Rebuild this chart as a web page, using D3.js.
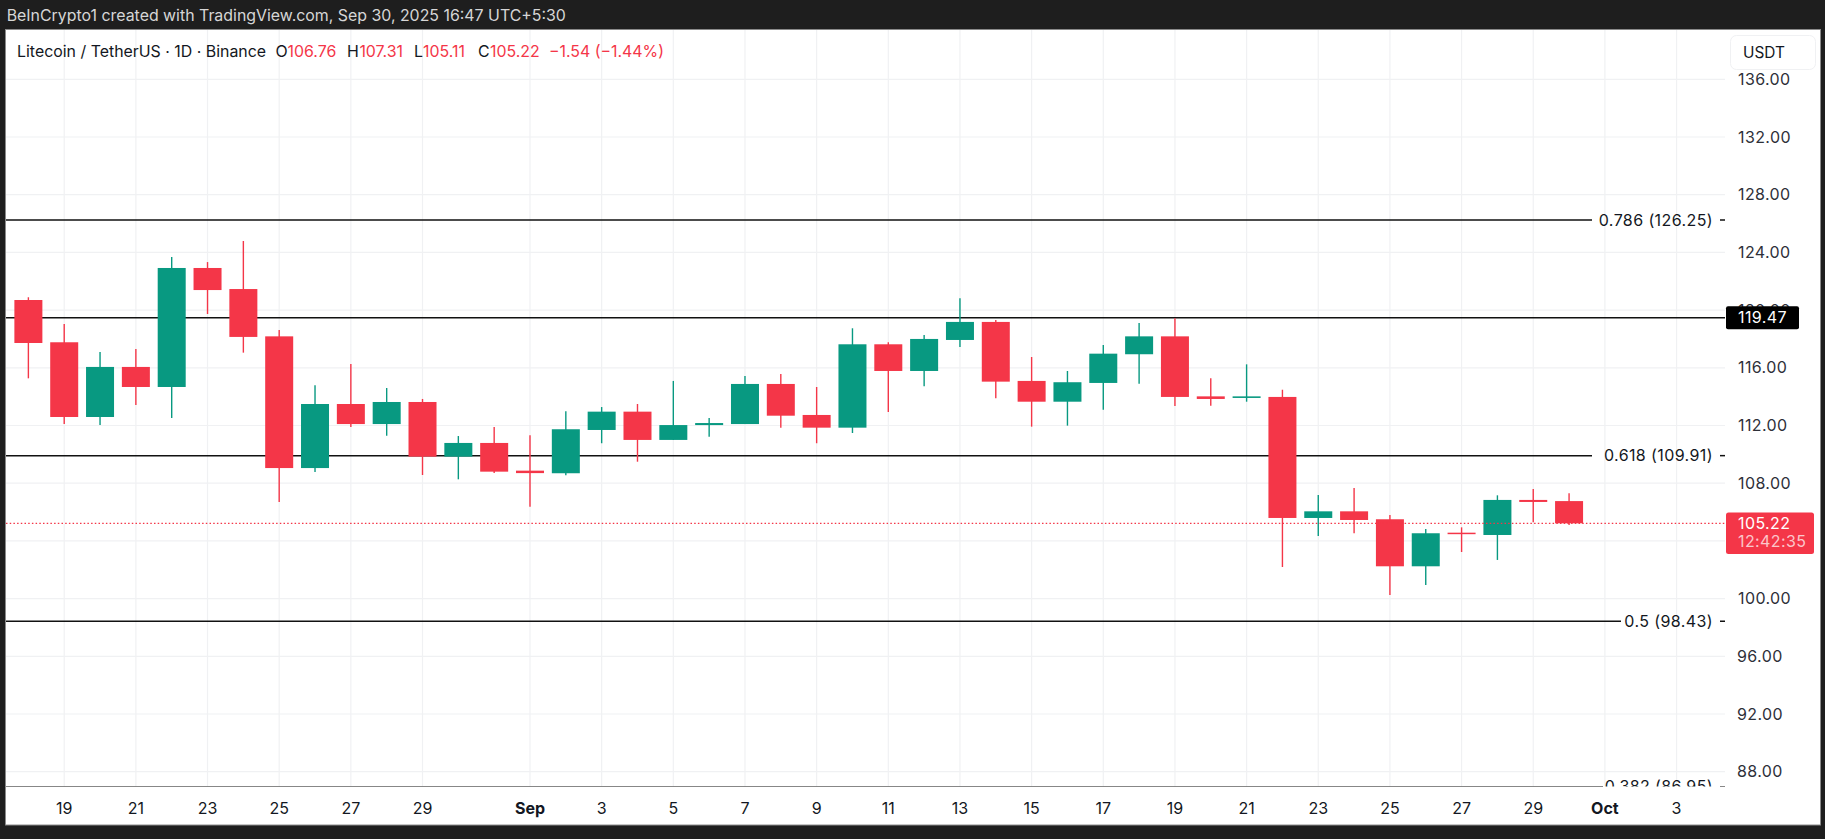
<!DOCTYPE html>
<html><head><meta charset="utf-8">
<style>html,body{margin:0;padding:0;background:#1e1e1e;overflow:hidden}svg{display:block}text{font-family:Inter,"Noto Sans",sans-serif}</style>
<script src="https://cdn.jsdelivr.net/npm/d3@7/dist/d3.min.js"></script>
</head><body><svg id="c" width="1825" height="839"></svg>
<script>
const dates=["2025-08-18","2025-08-19","2025-08-20","2025-08-21","2025-08-22","2025-08-23","2025-08-24","2025-08-25","2025-08-26","2025-08-27","2025-08-28","2025-08-29","2025-08-30","2025-08-31","2025-09-01","2025-09-02","2025-09-03","2025-09-04","2025-09-05","2025-09-06","2025-09-07","2025-09-08","2025-09-09","2025-09-10","2025-09-11","2025-09-12","2025-09-13","2025-09-14","2025-09-15","2025-09-16","2025-09-17","2025-09-18","2025-09-19","2025-09-20","2025-09-21","2025-09-22","2025-09-23","2025-09-24","2025-09-25","2025-09-26","2025-09-27","2025-09-28","2025-09-29","2025-09-30"];
const opens=[120.70,117.77,112.59,116.06,114.67,122.92,121.46,118.18,109.05,113.49,112.10,113.63,109.84,110.79,108.87,108.69,111.69,112.96,111.00,112.03,112.10,114.88,112.73,111.85,117.63,115.78,117.93,119.18,115.09,113.65,114.95,116.94,118.18,114.02,113.91,113.98,105.59,106.05,105.50,102.24,104.57,104.41,106.84,106.76];
const highs=[120.89,119.04,117.10,117.30,123.68,123.33,124.79,118.62,114.79,116.26,114.60,113.84,111.27,111.90,111.32,112.98,113.28,113.49,115.09,112.52,115.43,115.57,114.67,118.74,117.77,118.27,120.82,119.31,116.75,115.78,117.58,119.11,119.43,115.27,116.24,114.48,107.18,107.67,105.80,104.82,104.94,107.16,107.60,107.31];
const lows=[115.27,112.10,112.03,113.42,112.52,119.73,117.05,106.70,108.78,111.90,111.29,108.57,108.27,108.71,106.37,108.55,110.77,109.49,111.00,111.22,112.10,111.85,110.77,111.48,112.94,114.72,117.44,113.89,111.92,111.99,113.10,114.90,113.35,113.37,113.65,102.19,104.34,104.53,100.25,100.94,103.23,102.68,105.29,105.11];
const closes=[117.72,112.59,116.06,114.67,122.92,121.39,118.14,109.05,113.49,112.10,113.63,109.84,110.79,108.80,108.70,111.74,112.96,111.00,112.03,112.17,114.88,112.68,111.85,117.63,115.78,118.00,119.18,115.04,113.65,115.00,116.98,118.18,113.98,113.84,114.02,105.59,106.05,105.45,102.24,104.53,104.48,106.84,106.70,105.22];
const priceTicks=[136,132,128,124,120,116,112,108,104,100,96,92,88];
const hiddenPriceLabels=[104];
const timeTicks=["2025-08-19","2025-08-21","2025-08-23","2025-08-25","2025-08-27","2025-08-29","2025-09-01","2025-09-03","2025-09-05","2025-09-07","2025-09-09","2025-09-11","2025-09-13","2025-09-15","2025-09-17","2025-09-19","2025-09-21","2025-09-23","2025-09-25","2025-09-27","2025-09-29","2025-10-01","2025-10-03"];
const timeLabels=["19","21","23","25","27","29","Sep","3","5","7","9","11","13","15","17","19","21","23","25","27","29","Oct","3"];
const fibLevels=[0.786,0.618,0.5,0.382];
const fibPrices=[126.25,109.91,98.43,86.95];
const fibLineEnds=[1592,1592,1621,1603];
const hLevel=119.47;
const lastPrice=105.22;
const countdown="12:42:35";
const titleText="BeInCrypto1 created with TradingView.com, Sep 30, 2025 16:47 UTC+5:30";
const symbolText="Litecoin / TetherUS · 1D · Binance";
const legendLabels=["O","H","L","C"];
const legendValues=["106.76","107.31","105.11","105.22"];
const legendX=[275.5,347,414,478];
const legendValueX=[287.5,359.4,423,490];
const changeText="−1.54 (−1.44%)";

const UP="#089981",DOWN="#f43648",INK="#131722",AXIS="#2e3039",GRID="#f0f1f3";
const FS=16, LS=.4;
const parse=d3.utcParse("%Y-%m-%d");
const paneLeft=6,paneRight=1725,paneTop=30,paneBottom=786.5;
const x=d3.scaleUtc().domain([parse("2025-09-01"),parse("2025-10-01")]).range([530,1604.9]);
const y=d3.scaleLinear().domain([136,88]).range([79.3,771.7]);
const svg=d3.select("#c");

svg.append("rect").attr("width",1825).attr("height",839).attr("fill","#1e1e1e");
svg.append("rect").attr("x",paneLeft-.5).attr("y",paneTop-.5).attr("width",1821-paneLeft).attr("height",825.5-paneTop)
  .attr("fill","#fff").attr("stroke","#8a8a8a").attr("stroke-width",1);
svg.append("text").attr("x",6.7).attr("y",15).attr("dy","0.35em").attr("fill","#d6d6d6")
  .attr("font-size",15.9).text(titleText);

svg.append("defs").append("clipPath").attr("id","pane").append("rect")
  .attr("x",paneLeft).attr("y",paneTop).attr("width",paneRight-paneLeft).attr("height",paneBottom-paneTop);
const pane=svg.append("g").attr("clip-path","url(#pane)");

pane.append("g").selectAll("line").data(priceTicks).join("line")
  .attr("x1",paneLeft).attr("x2",paneRight).attr("y1",d=>y(d)).attr("y2",d=>y(d))
  .attr("stroke",GRID).attr("stroke-width",1.2);
pane.append("g").selectAll("line").data(timeTicks).join("line")
  .attr("x1",d=>x(parse(d))).attr("x2",d=>x(parse(d))).attr("y1",paneTop).attr("y2",paneBottom)
  .attr("stroke",GRID).attr("stroke-width",1.2);

pane.append("g").selectAll("line").data(fibPrices).join("line")
  .attr("x1",paneLeft).attr("x2",(d,i)=>fibLineEnds[i]).attr("y1",d=>y(d)).attr("y2",d=>y(d))
  .attr("stroke","#111").attr("stroke-width",1.5);
pane.append("g").selectAll("line").data(fibPrices).join("line")
  .attr("x1",1720).attr("x2",paneRight).attr("y1",d=>y(d)).attr("y2",d=>y(d))
  .attr("stroke","#111").attr("stroke-width",1.5);
pane.append("g").selectAll("text").data(fibPrices).join("text")
  .attr("x",1713).attr("y",d=>y(d)).attr("dy","0.35em").attr("text-anchor","end")
  .attr("fill",INK).attr("font-size",FS).attr("letter-spacing",LS)
  .text((d,i)=>`${fibLevels[i]} (${d.toFixed(2)})`);
pane.append("line").attr("x1",paneLeft).attr("x2",paneRight).attr("y1",y(hLevel)).attr("y2",y(hLevel))
  .attr("stroke","#111").attr("stroke-width",1.5);

const candles=dates.map((d,i)=>({t:parse(d),o:opens[i],h:highs[i],l:lows[i],c:closes[i]}));
const color=d=>d.c>=d.o?UP:DOWN;
const bodyW=28;
const g=pane.append("g");
g.selectAll("line").data(candles).join("line")
  .attr("x1",d=>x(d.t)).attr("x2",d=>x(d.t)).attr("y1",d=>y(d.h)).attr("y2",d=>y(d.l))
  .attr("stroke",color).attr("stroke-width",1.4);
g.selectAll("rect").data(candles).join("rect")
  .attr("x",d=>x(d.t)-bodyW/2).attr("width",bodyW)
  .attr("y",d=>y(Math.max(d.o,d.c))).attr("height",d=>Math.max(1.5,Math.abs(y(d.o)-y(d.c))))
  .attr("fill",color);

pane.append("line").attr("x1",paneLeft).attr("x2",paneRight).attr("y1",y(lastPrice)).attr("y2",y(lastPrice))
  .attr("stroke",DOWN).attr("stroke-width",1.2).attr("stroke-dasharray","1.5 2.2");

// axes
svg.append("g").selectAll("text").data(priceTicks.filter(d=>!hiddenPriceLabels.includes(d))).join("text")
  .attr("x",d=>d>=100?1738:1737).attr("y",d=>y(d)).attr("dy","0.35em")
  .attr("fill",AXIS).attr("font-size",FS).attr("letter-spacing",LS)
  .text(d=>d.toFixed(2));
svg.append("g").selectAll("text").data(timeTicks).join("text")
  .attr("x",d=>x(parse(d))).attr("y",808).attr("dy","0.35em").attr("text-anchor","middle")
  .attr("fill",INK).attr("font-size",FS)
  .attr("font-weight",(d,i)=>/[A-Za-z]/.test(timeLabels[i])?700:400)
  .text((d,i)=>timeLabels[i]);

// tags
svg.append("rect").attr("x",1726).attr("y",y(hLevel)-11.5).attr("width",73).attr("height",23).attr("rx",2).attr("fill","#000");
svg.append("text").attr("x",1738).attr("y",y(hLevel)).attr("dy","0.35em").attr("fill","#fff").attr("font-size",FS).attr("letter-spacing",LS).text(hLevel.toFixed(2));
svg.append("rect").attr("x",1726).attr("y",y(lastPrice)-10.7).attr("width",88).attr("height",41.4).attr("rx",2.5).attr("fill",DOWN);
svg.append("text").attr("x",1738).attr("y",y(lastPrice)).attr("dy","0.35em").attr("fill","#fff").attr("font-size",FS).attr("letter-spacing",LS).text(lastPrice.toFixed(2));
svg.append("text").attr("x",1738).attr("y",y(lastPrice)+18.5).attr("dy","0.35em").attr("fill","#fff").attr("fill-opacity",.72).attr("font-size",FS).attr("letter-spacing",LS).text(countdown);

// currency button
svg.append("rect").attr("x",1730.5).attr("y",35.5).attr("width",85).attr("height",34).attr("rx",6).attr("fill","#fff").attr("stroke","#f0f1f3");
svg.append("text").attr("x",1743).attr("y",52.5).attr("dy","0.35em").attr("fill",INK).attr("font-size",15.4).text("USDT");

// legend
svg.append("text").attr("x",17).attr("y",51).attr("dy","0.35em").attr("fill",INK).attr("font-size",15.9).text(symbolText);
const lg=svg.append("g");
lg.selectAll("text.l").data(legendLabels).join("text").attr("class","l")
  .attr("x",(d,i)=>legendX[i]).attr("y",51).attr("dy","0.35em").attr("fill",INK).attr("font-size",15.9).text(d=>d);
lg.selectAll("text.v").data(legendValues).join("text").attr("class","v")
  .attr("x",(d,i)=>legendValueX[i]).attr("y",51).attr("dy","0.35em").attr("fill",DOWN).attr("font-size",15.9).text(d=>d);
svg.append("text").attr("x",549).attr("y",51).attr("dy","0.35em").attr("fill",DOWN).attr("font-size",15.9).text(changeText);
</script></body></html>
